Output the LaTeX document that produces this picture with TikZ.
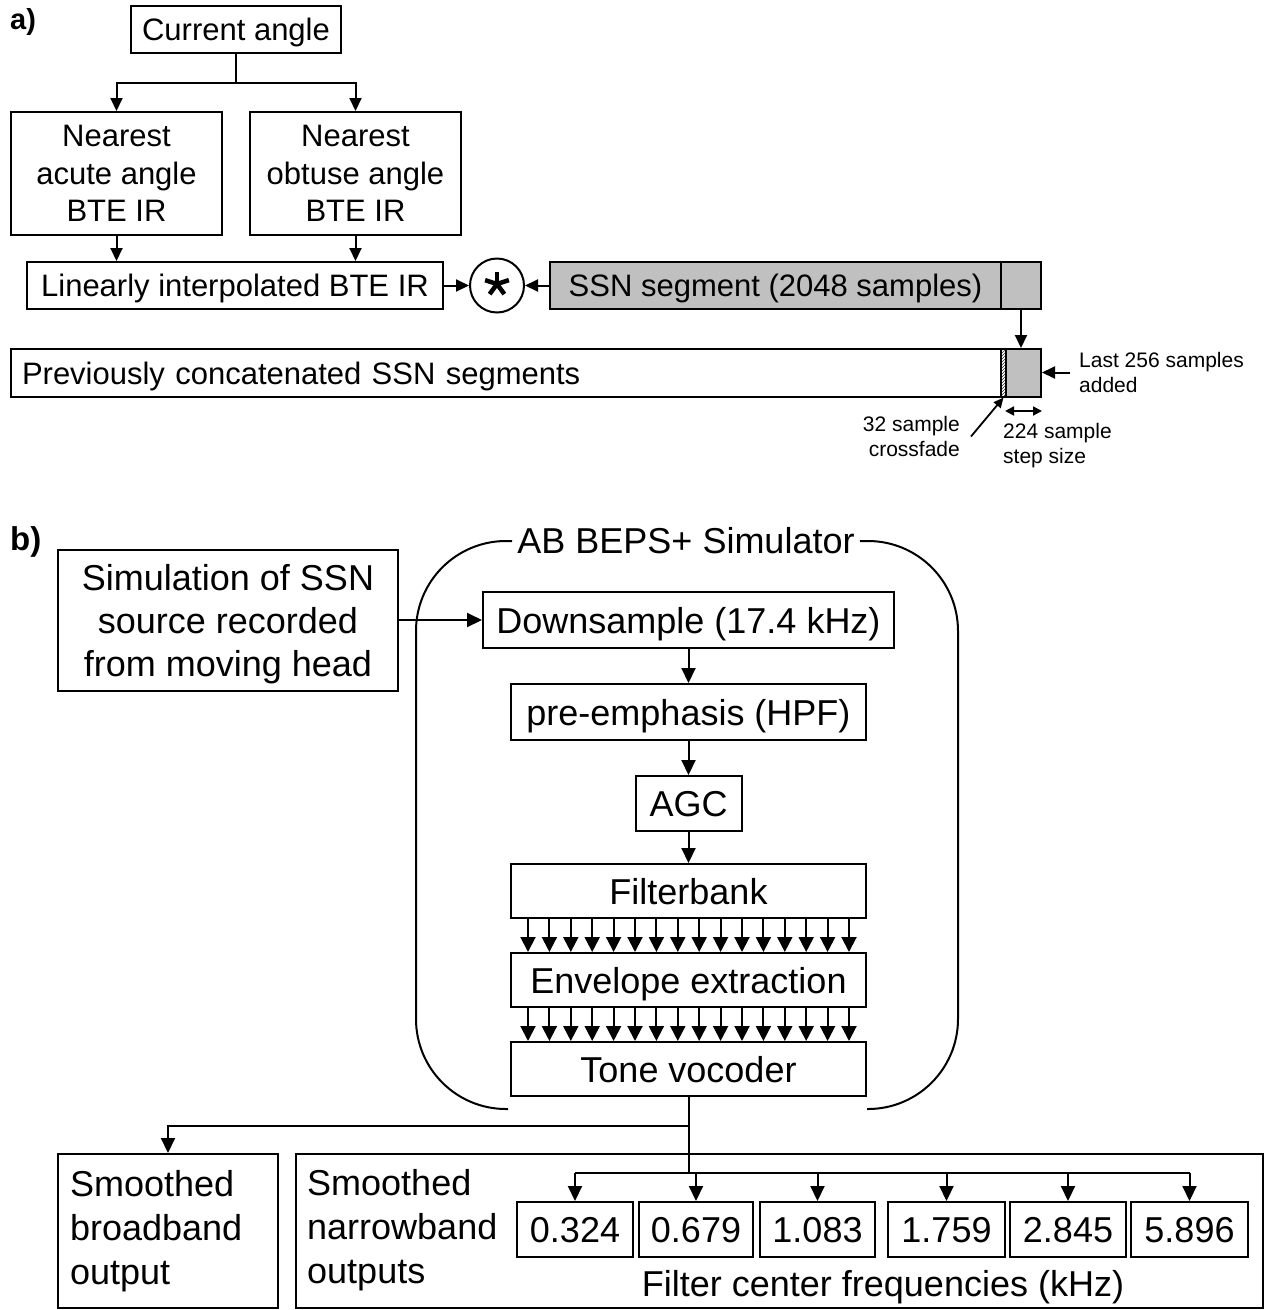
\documentclass[tikz,border=0pt]{standalone}
\usepackage{fontspec}
\setmainfont{Liberation Sans}
\usetikzlibrary{arrows.meta,patterns,calc}
\definecolor{ssngray}{RGB}{192,192,192}
\tikzset{
  box/.style={draw, line width=2pt, inner sep=0pt, align=center},
  fa/.style={font=\fontsize{31}{37.5}\selectfont},
  fbig/.style={font=\fontsize{36}{43}\selectfont},
  fbot/.style={font=\fontsize{36}{44}\selectfont},
  fsm/.style={font=\fontsize{21}{25}\selectfont},
  onea/.style={text height=22pt, text depth=0pt},
  oneb/.style={text height=26pt, text depth=0pt},
  conn/.style={line width=2pt},
  arra/.style={line width=2pt, -{Triangle[length=13pt,width=12pt]}},
  arrb/.style={line width=2pt, -{Triangle[length=15pt,width=14pt]}},
  arrf/.style={line width=2pt, -{Triangle[length=15pt,width=15pt]}},
  arrs/.style={line width=1.8pt, -{Triangle[length=10pt,width=9pt]}},
  dbl/.style={line width=1.8pt, {Triangle[length=9pt,width=9pt]}-{Triangle[length=9pt,width=9pt]}},
  txt/.style={inner sep=0pt},
}
\begin{document}
\begin{tikzpicture}[x=1pt, y=-1pt]
\useasboundingbox (0,0) rectangle (1271,1310);

% ---------------- part a ----------------
\node[txt, anchor=base west, font=\fontsize{29}{34}\selectfont\bfseries] (lbla) at (10,29) {a)};

\node[box, fa, onea, minimum width=210, minimum height=47] (cur) at (236,29.5) {Current angle};
\node[box, fa, minimum width=211, minimum height=123] (acute) at (116.5,173.5) {Nearest\\acute angle\\BTE IR};
\node[box, fa, minimum width=211, minimum height=123] (obtuse) at (355.5,173.5) {Nearest\\obtuse angle\\BTE IR};
\node[box, fa, onea, minimum width=416, minimum height=47] (interp) at (235,285.5) {Linearly interpolated BTE IR};
\node[draw, circle, line width=2pt, minimum size=54, inner sep=0pt] (star) at (497,285.5) {};
\foreach \a in {90,18,162,234,306}
  \draw[line width=4.5pt] ([yshift=1.5pt]star.center) -- ++(\a:12.5pt);
\node[box, fa, onea, fill=ssngray, minimum width=451, minimum height=47] (ssn) at (775.5,285.5) {SSN segment (2048 samples)};
\node[box, fill=ssngray, minimum width=40, minimum height=47] (ssnlast) at (1021,285.5) {};

\node[box, fa, onea, minimum width=990, minimum height=48, text width=968, inner xsep=11pt, align=left] (prev) at (506,373) {Previously concatenated SSN segments};
\node[draw, line width=1.2pt, pattern=north east lines, pattern color=black!80, minimum width=5, minimum height=48, inner sep=0pt] (cross) at (1003.5,373) {};
\node[box, fill=ssngray, minimum width=35, minimum height=48] (last) at (1023.5,373) {};

\node[txt, fsm, anchor=west, align=left] (lastlbl) at (1079,372.5) {Last 256 samples\\added};
\node[txt, fsm, anchor=east, align=right] (crosslbl) at (960,436.5) {32 sample\\crossfade};
\node[txt, fsm, anchor=west, align=left] (steplbl) at (1003,445.5) {224 sample\\step size};

\draw[conn] (cur.south) -- ++(0,29) coordinate (ca);
\draw[arra] (ca) -| (acute.north);
\draw[arra] (ca) -| (obtuse.north);
\draw[arra] (acute.south) -- (acute.south |- interp.north);
\draw[arra] (obtuse.south) -- (obtuse.south |- interp.north);
\draw[arra] (interp.east) -- (star.west);
\draw[arra] (ssn.west) -- (star.east);
\draw[arra] (ssnlast.south) -- (ssnlast.south |- last.north);
\draw[arra] ([xshift=-9pt]lastlbl.west) -- (last.east |- lastlbl.west);
\draw[arrs] ([xshift=11pt]crosslbl.east) -- (cross.south);
\draw[dbl] ([yshift=-13pt]last.south west) -- ([yshift=-13pt]last.south east);

% ---------------- part b ----------------
\node[txt, anchor=base west, font=\fontsize{33}{38}\selectfont\bfseries] (lblb) at (10,550) {b)};

\node[box, fbig, text depth=0pt, minimum width=340, minimum height=141] (sim) at (228,620) {Simulation of SSN\\source recorded\\from moving head};

\node[fbig, inner sep=5pt] (title) at (686,541) {AB BEPS+ Simulator};
\coordinate (fr1) at (416,541);
\coordinate (fr2) at (416,1109);
\coordinate (fr3) at (508,1109);
\coordinate (fr4) at (958,541);
\coordinate (fr5) at (958,1109);
\coordinate (fr6) at (867,1109);
\draw[conn, rounded corners=90pt] (title.west) -- (fr1) -- (fr2) -- (fr3);
\draw[conn, rounded corners=90pt] (title.east) -- (fr4) -- (fr5) -- (fr6);

\node[box, fbig, oneb, minimum width=411, minimum height=56] (down) at (688.5,620) {Downsample (17.4 kHz)};
\node[box, fbig, oneb, minimum width=355, minimum height=56] (pre) at (688.5,712) {pre-emphasis (HPF)};
\node[box, fbig, oneb, minimum width=106, minimum height=55] (agc) at (688.5,803.5) {AGC};
\node[box, fbig, oneb, minimum width=355, minimum height=54] (fbank) at (688.5,891) {Filterbank};
\node[box, fbig, oneb, minimum width=355, minimum height=54] (env) at (688.5,980) {Envelope extraction};
\node[box, fbig, oneb, minimum width=355, minimum height=54] (tone) at (688.5,1069) {Tone vocoder};

\draw[arrb] (sim.east) -- (down.west);
\draw[arrb] (down.south) -- (pre.north);
\draw[arrb] (pre.south) -- (agc.north);
\draw[arrb] (agc.south) -- (fbank.north);
\foreach \i [evaluate=\i as \dx using (\i-7.5)*21.4] in {0,...,15} {
  \draw[arrf] ([xshift=\dx pt]fbank.south) -- ([xshift=\dx pt]env.north);
  \draw[arrf] ([xshift=\dx pt]env.south) -- ([xshift=\dx pt]tone.north);
}

% bottom
\node[box, fbot, minimum width=220, minimum height=154, text width=196, inner xsep=12pt, align=left] (bb) at (168,1231) {Smoothed\\broadband\\output};
\node[box, minimum width=967, minimum height=154] (nb) at (779.5,1231) {};
\node[txt, fbot, anchor=west, align=left] (nbt) at (307,1230) {Smoothed\\narrowband\\outputs};

\node[box, fbig, oneb, minimum width=116, minimum height=55] (n1) at (575,1229.5) {0.324};
\node[box, fbig, oneb, minimum width=114, minimum height=55] (n2) at (696,1229.5) {0.679};
\node[box, fbig, oneb, minimum width=115, minimum height=55] (n3) at (817.5,1229.5) {1.083};
\node[box, fbig, oneb, minimum width=117, minimum height=55] (n4) at (946.5,1229.5) {1.759};
\node[box, fbig, oneb, minimum width=116, minimum height=55] (n5) at (1068,1229.5) {2.845};
\node[box, fbig, oneb, minimum width=117, minimum height=55] (n6) at (1189.5,1229.5) {5.896};
\node[txt, fbig] (fcf) at (883,1287) {Filter center frequencies (kHz)};

\coordinate (bj) at ($(tone.south)+(0,29)$);
\coordinate (br) at ($(tone.south)+(0,76)$);
\draw[conn] (tone.south) -- (br);
\draw[arrb] (bj) -| (bb.north);
\draw[conn] (n1.north |- br) -- (n6.north |- br);
\foreach \n in {n1,n2,n3,n4,n5,n6}
  \draw[arrb] (\n.north |- br) -- (\n.north);
\end{tikzpicture}
\end{document}
